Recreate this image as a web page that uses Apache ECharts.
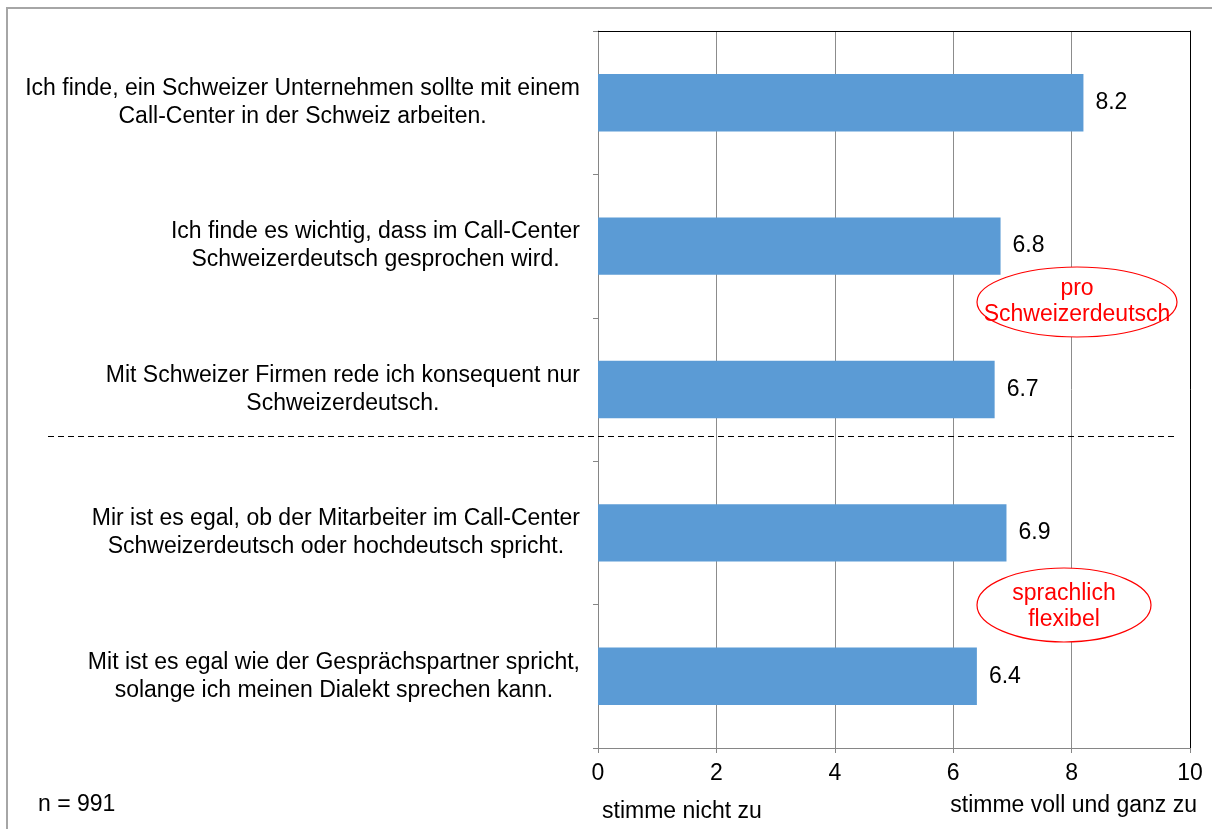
<!DOCTYPE html>
<html lang="de">
<head>
    <meta charset="UTF-8">
    <title>Call-Center Schweizerdeutsch</title>
    <style>
        html, body { margin: 0; padding: 0; background: #fff; }
        #chart { width: 1212px; height: 829px; }
    </style>
    <script src="https://cdn.jsdelivr.net/npm/echarts@6/dist/echarts.min.js"></script>
</head>
<body>
<div id="chart"></div>
<script>
// Aussagen (von oben nach unten) und Mittelwerte
var statements = [
    ['Ich finde, ein Schweizer Unternehmen sollte mit einem', 'Call-Center in der Schweiz arbeiten.'],
    ['Ich finde es wichtig, dass im Call-Center', 'Schweizerdeutsch gesprochen wird.'],
    ['Mit Schweizer Firmen rede ich konsequent nur', 'Schweizerdeutsch.'],
    ['Mir ist es egal, ob der Mitarbeiter im Call-Center', 'Schweizerdeutsch oder hochdeutsch spricht.'],
    ['Mit ist es egal wie der Gesprächspartner spricht,', 'solange ich meinen Dialekt sprechen kann.']
];
var means = [8.2, 6.8, 6.7, 6.9, 6.4];
var xTicks = [0, 10, 2];   // min, max, interval

var FONT = '"Liberation Sans", Arial, sans-serif';
var FS = 23;
var chart = echarts.init(document.getElementById('chart'));

// Zweitachsen ohne Beschriftung liefern den schwarzen Rahmen oben und rechts
var frameLine = { show: true, onZero: false, lineStyle: { color: '#000', width: 1 } };

var option = {
    animation: false,
    grid: { left: 598, right: 22, top: 31, bottom: 81 },
    xAxis: [{
        type: 'value',
        min: xTicks[0], max: xTicks[1], interval: xTicks[2],
        axisLine: { show: true, onZero: false, lineStyle: { color: '#868686' } },
        axisTick: { show: true, length: 5, lineStyle: { color: '#868686' } },
        splitLine: { lineStyle: { color: '#8c8c8c' } },
        axisLabel: { color: '#000', fontSize: FS, fontFamily: FONT, margin: 14 }
    }, {
        type: 'value', position: 'top',
        min: xTicks[0], max: xTicks[1], interval: xTicks[2],
        axisLine: frameLine, axisTick: { show: false }, axisLabel: { show: false }, splitLine: { show: false }
    }],
    yAxis: [{
        type: 'category',
        inverse: true,
        data: statements.map(function (s) { return s.join('\n'); }),
        axisLine: { show: true, onZero: false, lineStyle: { color: '#868686' } },
        axisTick: { show: true, length: 5, lineStyle: { color: '#868686' } },
        axisLabel: {
            margin: 18,
            fontFamily: FONT,
            formatter: function (v) {
                return v.split('\n').map(function (l) { return '{c|' + l + '}'; }).join('\n');
            },
            rich: {
                c: { align: 'center', fontSize: FS, lineHeight: 28, color: '#000', fontFamily: FONT }
            }
        }
    }, {
        type: 'value', position: 'right', min: 0, max: 1,
        axisLine: frameLine, axisTick: { show: false }, axisLabel: { show: false }, splitLine: { show: false }
    }],
    series: [{
        type: 'bar',
        data: means,
        barWidth: '40%',
        itemStyle: { color: '#5b9bd5' },
        label: {
            show: true, position: 'right', distance: 12,
            color: '#000', fontSize: FS, fontFamily: FONT,
            formatter: function (p) { return p.value.toFixed(1); }
        }
    }],
    graphic: [
        { type: 'rect', shape: { x: 7, y: 8, width: 1230, height: 860 },
          style: { fill: 'none', stroke: '#a6a6a6', lineWidth: 2 }, z: 100 },
        { type: 'line', shape: { x1: 48, y1: 436.5, x2: 1178, y2: 436.5 },
          style: { stroke: '#000', lineWidth: 1.2, lineDash: [6, 4] }, z: 100 },
        { type: 'ellipse', shape: { cx: 1077, cy: 302, rx: 100, ry: 35 },
          style: { fill: '#fff', stroke: '#ff0000', lineWidth: 1.2 }, z: 100 },
        { type: 'text', x: 1077, y: 302, z: 101,
          style: { text: 'pro\nSchweizerdeutsch', fill: '#ff0000', fontSize: FS, lineHeight: 26,
                   fontFamily: FONT, align: 'center', verticalAlign: 'middle' } },
        { type: 'ellipse', shape: { cx: 1064, cy: 605, rx: 87, ry: 37 },
          style: { fill: '#fff', stroke: '#ff0000', lineWidth: 1.2 }, z: 100 },
        { type: 'text', x: 1064, y: 607, z: 101,
          style: { text: 'sprachlich\nflexibel', fill: '#ff0000', fontSize: FS, lineHeight: 26,
                   fontFamily: FONT, align: 'center', verticalAlign: 'middle' } },
        { type: 'text', x: 602, y: 812, z: 100,
          style: { text: 'stimme nicht zu', fill: '#000', fontSize: FS, fontFamily: FONT, verticalAlign: 'middle' } },
        { type: 'text', x: 1197, y: 806, z: 100,
          style: { text: 'stimme voll und ganz zu', fill: '#000', fontSize: FS, fontFamily: FONT,
                   align: 'right', verticalAlign: 'middle' } },
        { type: 'text', x: 38, y: 805, z: 100,
          style: { text: 'n = 991', fill: '#000', fontSize: FS, fontFamily: FONT, verticalAlign: 'middle' } }
    ]
};
chart.setOption(option);
</script>
</body>
</html>
